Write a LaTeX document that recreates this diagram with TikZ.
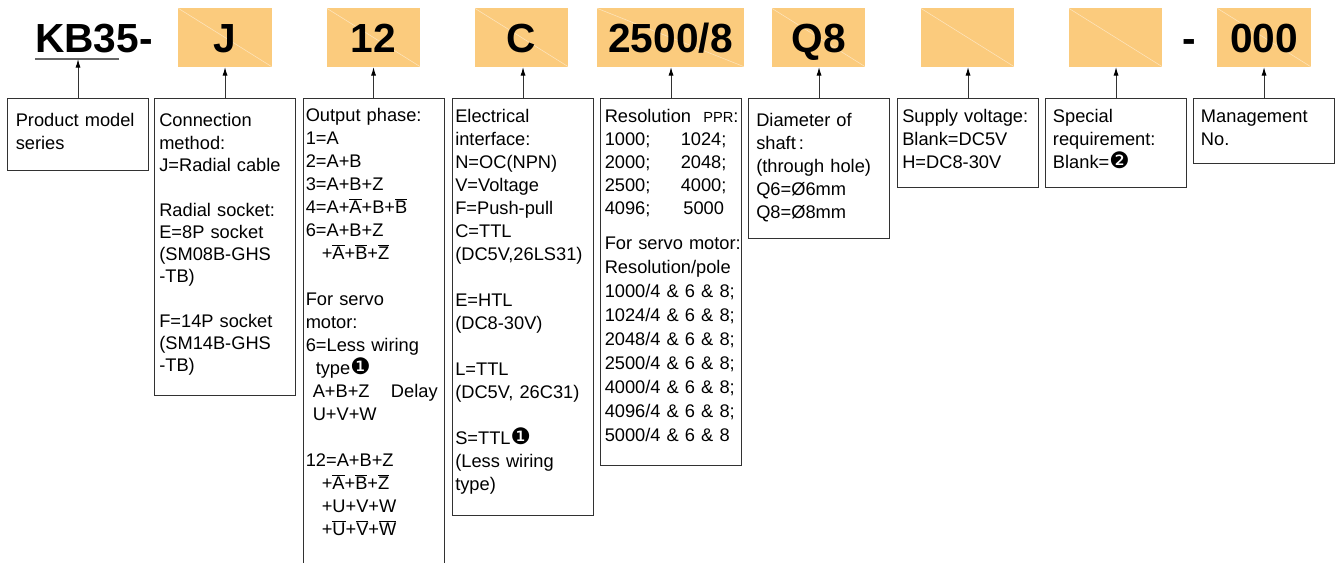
\documentclass[tikz,border=0pt]{standalone}
\usepackage{fontspec}
\setmainfont{Liberation Sans}
\newfontfamily\dingfont{DejaVu Sans}
\usetikzlibrary{arrows.meta,positioning,calc}

\definecolor{codefill}{RGB}{251,203,125}
\definecolor{frameline}{RGB}{50,50,50}
\newcommand{\ovl}[1]{$\overline{\hbox{#1}}$}
\newcommand{\dingone}{{\dingfont\fontsize{17}{17}\selectfont\char"2776}}
\newcommand{\dingtwo}{{\dingfont\fontsize{17}{17}\selectfont\char"2777}}

\tikzset{
  codebox/.style={fill=codefill, inner sep=0pt, minimum width=70.1pt,
    minimum height=43.8pt, font=\fontsize{30.5}{30.5}\selectfont\bfseries,
    text height=21.8pt, text depth=0pt,
    path picture={\draw[white, opacity=0.5, line width=0.4pt]
      (path picture bounding box.north west) -- (path picture bounding box.south east);}},
  descframe/.style={draw=frameline, line width=0.8pt, anchor=north west,
    inner sep=0pt, minimum width=105.75pt},
  desctext/.style={anchor=north west, inner sep=0pt, text width=150pt,
    align=left, font=\fontsize{13.7}{17.25}\selectfont},
  pointer/.style={draw=frameline, line width=0.75pt,
    -{Latex[length=6.5pt,width=3.8pt,color=black]}}
}

\begin{document}
\begin{tikzpicture}[x=0.75pt,y=-0.75pt]
  \useasboundingbox (0,0) rectangle (1338,563);
  \clip (0,0) rectangle (1338,563);

  % code row
  \node[anchor=base west, inner sep=0pt, font=\fontsize{30.5}{30.5}\selectfont\bfseries]
    (series) at (35,52.3) {KB35-};
  \draw[draw=gray!80!black, line width=0.8pt] (35,59) -- (119,59);
  \coordinate (ul) at (77,59);
  \node[codebox] (cJ) at (225,37.5) {J};
  \node[codebox] (cOut) at (373.5,37.5) {12};
  \node[codebox] (cElec) at (521.5,37.5) {C};
  \node[codebox, minimum width=110.3pt] (cRes) at (670.5,37.5) {2500/8};
  \node[codebox] (cDia) at (818.5,37.5) {Q8};
  \node[codebox] (cSup) at (967.5,37.5) {};
  \node[codebox] (cSpe) at (1115.5,37.5) {};
  \node[anchor=base, inner sep=0pt, font=\fontsize{30.5}{30.5}\selectfont\bfseries]
    (dash) at (1189,52.3) {-};
  \node[codebox] (cMan) at (1264,37.5) {000};

  % description frames
  \node[descframe, minimum height=53.8pt] (fProd) at (7,98.3) {};
  \node[descframe, minimum height=222.5pt] (fConn) at (154,98.3) {};
  \node[descframe, minimum height=376pt] (fOut) at (302.5,98.3) {};
  \node[descframe, minimum height=312.5pt] (fElec) at (452,98.3) {};
  \node[descframe, minimum height=275pt] (fRes) at (600,98.3) {};
  \node[descframe, minimum height=104.8pt] (fDia) at (748,98.3) {};
  \node[descframe, minimum height=66.5pt] (fSup) at (897,98.3) {};
  \node[descframe, minimum height=66.5pt] (fSpe) at (1045,98.3) {};
  \node[descframe, minimum height=48.5pt] (fMan) at (1193,98.3) {};

  % description texts
  \node[desctext, text height=21.3pt] (tProd) at ($(fProd.north west)+(8.5,0)$)
    {Product model\\series};
  \node[desctext, text height=21.3pt, font=\fontsize{13.7}{16.7}\selectfont] (tConn)
    at ($(fConn.north west)+(5,0)$)
    {Connection\\method:\\J=Radial cable\\[16.7pt]
     Radial socket:\\E=8P socket\\(SM08B-GHS\\-TB)\\[16.7pt]
     F=14P socket\\(SM14B-GHS\\-TB)};
  \node[desctext, text height=17pt] (tOut) at ($(fOut.north west)+(3,0)$)
    {Output phase:\\1=A\\2=A+B\\3=A+B+Z\\4=A+\ovl{A}+B+\ovl{B}\\6=A+B+Z\\
     \hspace*{12pt}+\ovl{A}+\ovl{B}+\ovl{Z}\\[17.25pt]
     For servo\\motor:\\6=Less wiring\\
     \hspace*{7.5pt}type\dingone\\
     \hspace*{5.25pt}A+B+Z\hspace{16pt}Delay\\
     \hspace*{5.25pt}U+V+W\\[17.25pt]
     12=A+B+Z\\
     \hspace*{12pt}+\ovl{A}+\ovl{B}+\ovl{Z}\\
     \hspace*{12pt}+U+V+W\\
     \hspace*{12pt}+\ovl{U}+\ovl{V}+\ovl{W}};
  \node[desctext, text height=18pt] (tElec) at ($(fElec.north west)+(3,0)$)
    {Electrical\\interface:\\N=OC(NPN)\\V=Voltage\\F=Push-pull\\C=TTL\\
     (DC5V,26LS31)\\[17.25pt]
     E=HTL\\(DC8-30V)\\[17.25pt]
     L=TTL\\(DC5V, 26C31)\\[17.25pt]
     S=TTL\dingone\\(Less wiring\\type)};
  \node[desctext, text height=18pt] (tRes) at ($(fRes.north west)+(4.5,0)$)
    {Resolution\ \ {\fontsize{11}{12}\selectfont PPR}:\\
     \makebox[57pt][l]{1000;}1024;\\
     \makebox[57pt][l]{2000;}2048;\\
     \makebox[57pt][l]{2500;}4000;\\
     \makebox[59pt][l]{4096;}5000\\[8.8pt]
     For servo motor:\\[0.75pt]
     Resolution/pole\\[0.75pt]
     1000/4 \& 6 \& 8;\\[0.75pt]
     1024/4 \& 6 \& 8;\\[0.75pt]
     2048/4 \& 6 \& 8;\\[0.75pt]
     2500/4 \& 6 \& 8;\\[0.75pt]
     4000/4 \& 6 \& 8;\\[0.75pt]
     4096/4 \& 6 \& 8;\\[0.75pt]
     5000/4 \& 6 \& 8};
  \node[desctext, text height=21.3pt] (tDia) at ($(fDia.north west)+(8,0)$)
    {Diameter of\\shaft\,:\\(through hole)\\Q6=Ø6mm\\Q8=Ø8mm};
  \node[desctext, text height=18pt] (tSup) at ($(fSup.north west)+(5,0)$)
    {Supply voltage:\\Blank=DC5V\\H=DC8-30V};
  \node[desctext, text height=18pt] (tSpe) at ($(fSpe.north west)+(7.7,0)$)
    {Special\\requirement:\\Blank=\dingtwo};
  \node[desctext, text height=18pt] (tMan) at ($(fMan.north west)+(7.7,0)$)
    {Management\\No.};

  % pointers
  \draw[pointer] (fProd.north) -- (fProd.north |- ul);
  \draw[pointer] (fConn.north) -- (fConn.north |- cJ.south);
  \draw[pointer] (fOut.north) -- (fOut.north |- cOut.south);
  \draw[pointer] (fElec.north) -- (fElec.north |- cElec.south);
  \draw[pointer] (fRes.north) -- (fRes.north |- cRes.south);
  \draw[pointer] (fDia.north) -- (fDia.north |- cDia.south);
  \draw[pointer] (fSup.north) -- (fSup.north |- cSup.south);
  \draw[pointer] (fSpe.north) -- (fSpe.north |- cSpe.south);
  \draw[pointer] (fMan.north) -- (fMan.north |- cMan.south);
\end{tikzpicture}
\end{document}
